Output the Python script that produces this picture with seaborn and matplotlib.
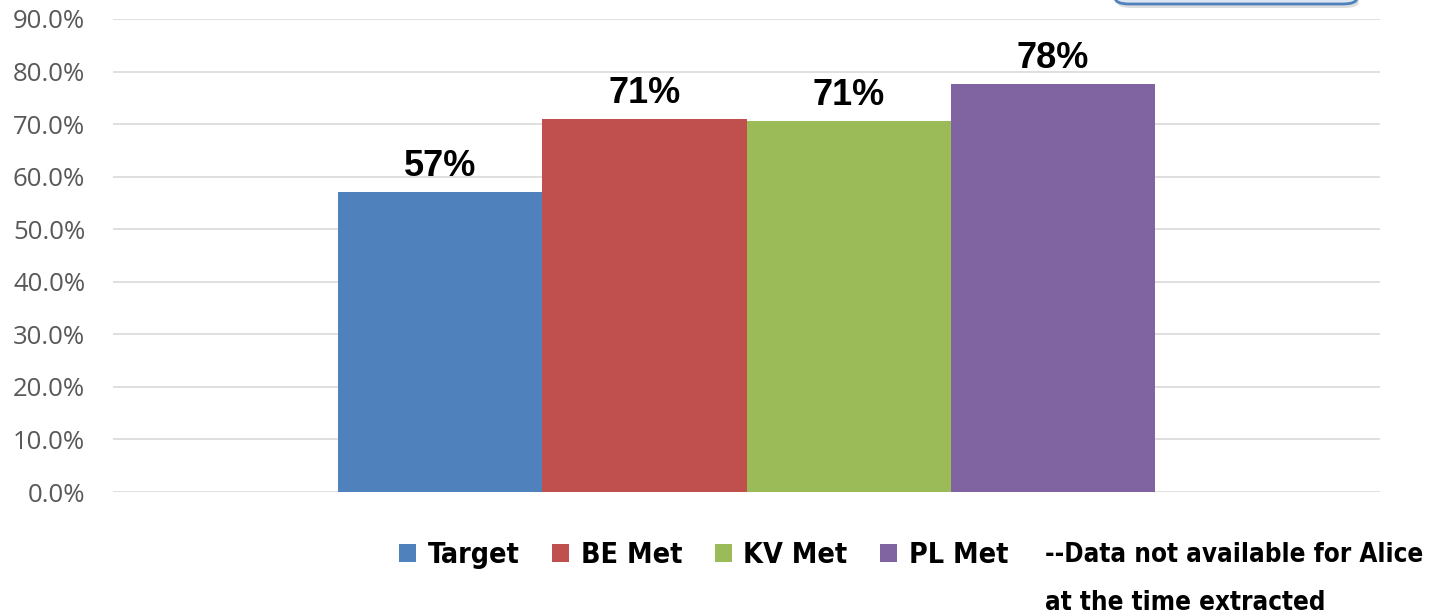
import matplotlib
matplotlib.use('Agg')
import matplotlib.pyplot as plt
from matplotlib.patches import FancyBboxPatch, Patch
from matplotlib.ticker import PercentFormatter
import pandas as pd
import seaborn as sns

# data
series = ['Target', 'BE Met', 'KV Met', 'PL Met']
values = [0.57, 0.71, 0.705, 0.776]
labels = ['57%', '71%', '71%', '78%']
colors = ['#4F81BD', '#C0504D', '#9BBB59', '#8064A2']
note_lines = ['--Data not available for Alice', 'at the time extracted']

df = pd.DataFrame({'cat': [''] * len(series), 'series': series, 'value': values})

sns.set_style('white')

fig = plt.figure(figsize=(14.39, 6.15), dpi=100)
ax = fig.add_axes([113 / 1439, 1 - 492 / 615, 1267 / 1439, 473 / 615])

sns.barplot(data=df, x='cat', y='value', hue='series', palette=colors,
            width=0.645, saturation=1, legend=False, linewidth=0, ax=ax)

ax.set_ylim(0, 0.9)
ax.set_yticks([i / 10 for i in range(10)])
ax.yaxis.set_major_formatter(PercentFormatter(1.0, decimals=1))
ax.set_xlim(-0.5, 0.5)
ax.set_xticks([])
ax.set_xlabel('')
ax.set_ylabel('')
ax.grid(axis='y', color='#D9D9D9', linewidth=1.2)
ax.set_axisbelow(True)
for s in ax.spines.values():
    s.set_visible(False)
ax.tick_params(axis='y', length=0, pad=20, labelsize=18.5, labelcolor='#595959')
for t in ax.get_yticklabels():
    t.set_family('Open Sans')

for cont, lab in zip(ax.containers, labels):
    ax.bar_label(cont, labels=[lab], padding=6, fontsize=26, fontweight='bold',
                 family='Liberation Sans', color='black')

# condensed bold, close to the original Calibri look
legend_font = {'family': 'DejaVu Sans', 'stretch': 'condensed', 'weight': 'bold', 'size': 20.5}
handles = [Patch(facecolor=c, edgecolor='none') for c in colors]
leg = fig.legend(handles, series, loc='center left', bbox_to_anchor=(399 / 1439, 1 - 555 / 615),
                 ncol=4, frameon=False, handlelength=0.6, handleheight=0.6,
                 handletextpad=0.4, columnspacing=1.15, borderaxespad=0, borderpad=0,
                 prop=legend_font, labelcolor='black')

note_font = dict(legend_font, size=18.6)
for i, line in enumerate(note_lines):
    fig.text(1045 / 1439, 1 - (555 + 48 * i) / 615, line, ha='left', va='center',
             color='black', transform=fig.transFigure, **note_font)

# cut-off box at the top right
shadow = FancyBboxPatch((1117 / 1439, 1 - 8 / 615), 242 / 1439, 0.1,
                        boxstyle='round,pad=0,rounding_size=0.01',
                        transform=fig.transFigure, facecolor='#CFCFCF',
                        edgecolor='none', alpha=0.7)
box = FancyBboxPatch((1115 / 1439, 1 - 4 / 615), 242 / 1439, 0.1,
                     boxstyle='round,pad=0,rounding_size=0.01',
                     transform=fig.transFigure, facecolor='#DCE6F2',
                     edgecolor='#4F81BD', linewidth=2)
fig.patches.extend([shadow, box])

fig.savefig('out.png', dpi=100)
